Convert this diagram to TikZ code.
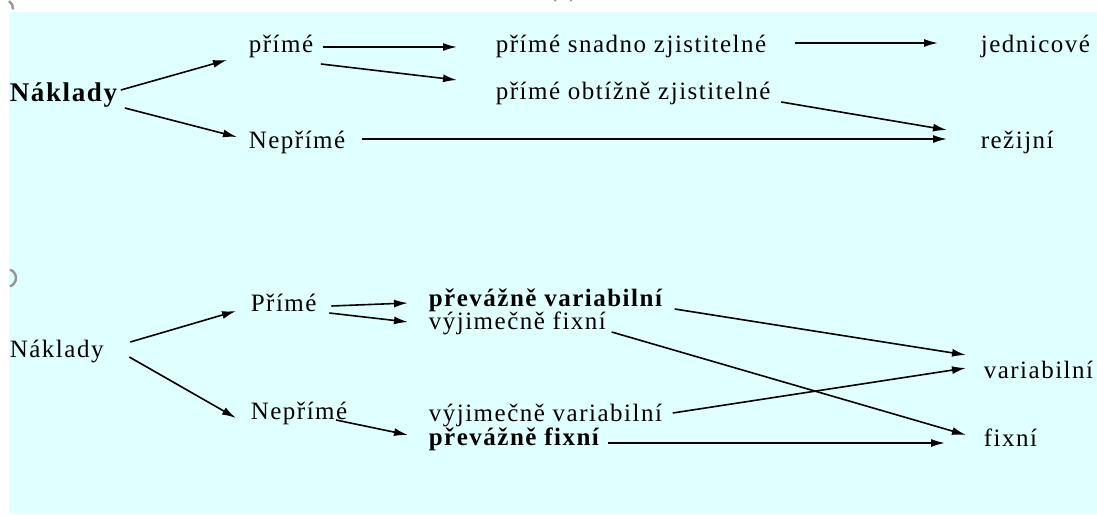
\documentclass[tikz,border=0pt]{standalone}
\usepackage{fontspec}
\setmainfont{Liberation Serif}[LetterSpace=6]
\usetikzlibrary{arrows.meta}
\definecolor{bgcyan}{RGB}{224,255,255}
\definecolor{handle}{RGB}{150,150,150}
\tikzset{
  lbl/.style={anchor=base west,inner sep=0pt,font=\fontsize{12.5}{14}\selectfont},
  lblb/.style={lbl,font=\fontsize{12.5}{14}\selectfont\bfseries},
}
\begin{document}
\begin{tikzpicture}[x=0.5pt,y=-0.5pt,>={Latex[length=7pt,width=4pt]},line width=0.8pt]
    % page and background
    \useasboundingbox (0,0) rectangle (1097,514);
    \fill[bgcyan] (9,12) rectangle (1097,514);
    % selection handles
    \draw[handle,line width=1.2pt] (563,4) ++(200:9) arc (200:340:9);
    \draw[handle,line width=1.2pt] (7,278) ++(-70:9) arc (-70:70:9);
    \draw[handle,line width=1.2pt] (5,8) ++(-60:8) arc (-60:10:8);

    % first scheme: direct / indirect costs
    \node[lbl,font=\fontsize{13.5}{15}\selectfont\bfseries] (nakl1) at (9,101) {Náklady};
    \node[lbl] (prime1)   at (248,52)  {přímé};
    \node[lbl] (neprime1) at (248,148) {Nepřímé};
    \node[lbl] (snadno)   at (495,52)  {přímé snadno zjistitelné};
    \node[lbl] (obtizne)  at (495,99)  {přímé obtížně zjistitelné};
    \node[lbl] (jedn)     at (980,52)  {jednicové};
    \node[lbl] (rezij)    at (980,148) {režijní};

    % second scheme: variable / fixed costs
    \node[lbl]  (nakl2)    at (9,357)   {Náklady};
    \node[lbl]  (prime2)   at (250,311) {Přímé};
    \node[lbl]  (neprime2) at (250,419) {Nepřímé};
    \node[lblb] (pvar)     at (428,306) {převážně variabilní};
    \node[lbl]  (vfix)     at (428,329) {výjimečně fixní};
    \node[lbl]  (vvar)     at (428,421) {výjimečně variabilní};
    \node[lblb] (pfix)     at (428,445) {převážně fixní};
    \node[lbl]  (var)      at (983,378) {variabilní};
    \node[lbl]  (fix)      at (983,446) {fixní};

    % arrows: from/shift/to/shift
    \foreach \a/\ax/\ay/\b/\bx/\by in {
        nakl1/3/-11/prime1/-21/8,
        nakl1/7/7/neprime1/-11/-11,
        prime1/9/-5/snadno/-38/-5,
        prime1/7/12/obtizne/-38/-19,
        snadno/28/-9/jedn/-42/-9,
        obtizne/10/3/rezij/-33/-18,
        neprime1/16/-9/rezij/-33/-9,
        nakl2/26/-15/prime2/-14/0,
        nakl2/25/0/neprime2/-14/-1,
        prime2/14/-5/pvar/-20/-3,
        prime2/12/2/vfix/-20/-7,
        neprime2/-12/1/pfix/-20/-10,
        pvar/12/3/var/-17/-23,
        vfix/5/3/fix/-17/-11,
        vvar/10/-8/var/-17/-10,
        pfix/8/-2/fix/-38/-3}
            \draw[->] ([shift={(\ax,\ay)}]\a.base east) -- ([shift={(\bx,\by)}]\b.base west);
\end{tikzpicture}
\end{document}
